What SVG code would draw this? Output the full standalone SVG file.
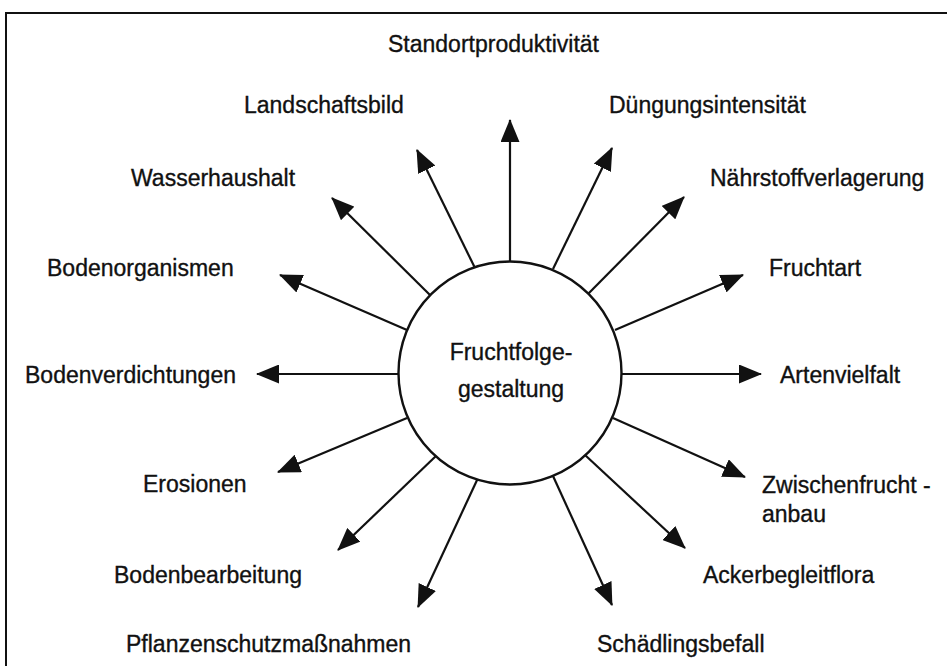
<svg xmlns="http://www.w3.org/2000/svg" width="947" height="666" viewBox="0 0 947 666">
<style>
.lbl{font-family:"Liberation Sans",Arial,sans-serif;font-size:23px;fill:#111;stroke:#111;stroke-width:0.35;}
.cn{stroke:#111;stroke-width:2.2;fill:none;}
</style>
<defs>
<marker id="ah" viewBox="0 0 23 19" refX="22" refY="9.5" markerWidth="23" markerHeight="19" markerUnits="userSpaceOnUse" orient="auto">
<path d="M0,0 L23,9.5 L0,19 z" fill="#111"/>
</marker>
</defs>
<rect width="947" height="666" fill="#fff"/>
<path d="M6,666 V13 H947" fill="none" stroke="#111" stroke-width="2"/>
<g id="connectors">
<line class="cn" x1="510" y1="262" x2="510" y2="120" marker-end="url(#ah)"/>
<line class="cn" x1="475" y1="268" x2="417" y2="150" marker-end="url(#ah)"/>
<line class="cn" x1="553" y1="269" x2="612" y2="148" marker-end="url(#ah)"/>
<line class="cn" x1="430" y1="295" x2="332" y2="198" marker-end="url(#ah)"/>
<line class="cn" x1="588" y1="294" x2="684" y2="197" marker-end="url(#ah)"/>
<line class="cn" x1="407" y1="330" x2="280" y2="275" marker-end="url(#ah)"/>
<line class="cn" x1="615" y1="330" x2="743" y2="275" marker-end="url(#ah)"/>
<line class="cn" x1="398" y1="374" x2="257" y2="374" marker-end="url(#ah)"/>
<line class="cn" x1="622" y1="374" x2="761" y2="374" marker-end="url(#ah)"/>
<line class="cn" x1="407" y1="418" x2="278" y2="472" marker-end="url(#ah)"/>
<line class="cn" x1="613" y1="418" x2="745" y2="477" marker-end="url(#ah)"/>
<line class="cn" x1="437" y1="455" x2="338" y2="550" marker-end="url(#ah)"/>
<line class="cn" x1="585" y1="455" x2="685" y2="548" marker-end="url(#ah)"/>
<line class="cn" x1="478" y1="478" x2="418" y2="607" marker-end="url(#ah)"/>
<line class="cn" x1="553" y1="476" x2="612" y2="605" marker-end="url(#ah)"/>
</g>
<g id="center">
<circle cx="510" cy="373" r="111.5" fill="#fff" stroke="#111" stroke-width="2.4"/>
<text class="lbl" x="511" y="360" text-anchor="middle">Fruchtfolge-</text>
<text class="lbl" x="511" y="397" text-anchor="middle">gestaltung</text>
</g>
<g id="n-standort"><text class="lbl" x="388" y="52">Standortproduktivität</text></g>
<g id="n-landschaft"><text class="lbl" x="244" y="113">Landschaftsbild</text></g>
<g id="n-duengung"><text class="lbl" x="609" y="113">Düngungsintensität</text></g>
<g id="n-wasser"><text class="lbl" x="131" y="186">Wasserhaushalt</text></g>
<g id="n-naehrstoff"><text class="lbl" x="710" y="186">Nährstoffverlagerung</text></g>
<g id="n-bodenorg"><text class="lbl" x="47" y="276">Bodenorganismen</text></g>
<g id="n-fruchtart"><text class="lbl" x="769" y="276">Fruchtart</text></g>
<g id="n-bodenverd"><text class="lbl" x="25" y="383">Bodenverdichtungen</text></g>
<g id="n-arten"><text class="lbl" x="780" y="383">Artenvielfalt</text></g>
<g id="n-erosion"><text class="lbl" x="143" y="492">Erosionen</text></g>
<g id="n-zwischen"><text class="lbl" x="762" y="493">Zwischenfrucht -</text><text class="lbl" x="762" y="522">anbau</text></g>
<g id="n-bodenbearb"><text class="lbl" x="114" y="583">Bodenbearbeitung</text></g>
<g id="n-acker"><text class="lbl" x="703" y="583">Ackerbegleitflora</text></g>
<g id="n-pflanzen"><text class="lbl" x="126" y="652">Pflanzenschutzmaßnahmen</text></g>
<g id="n-schaedling"><text class="lbl" x="597" y="652">Schädlingsbefall</text></g>
</svg>
